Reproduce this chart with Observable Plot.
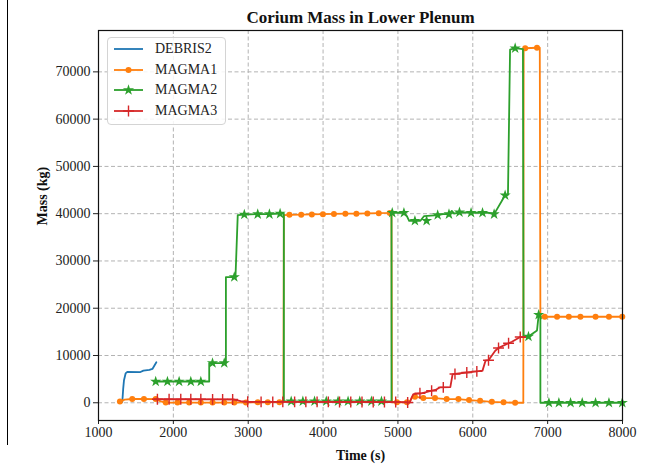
<!DOCTYPE html>
<html><head><meta charset="utf-8">
<script src="https://cdn.jsdelivr.net/npm/d3@7"></script>
<script src="https://cdn.jsdelivr.net/npm/@observablehq/plot@0.6"></script>
<style>
body{margin:0;background:#fff;}
#wrap{position:relative;width:649px;height:464px;overflow:hidden;font-family:"Liberation Serif","Times New Roman",serif;}
#legend{position:absolute;left:107px;top:37px;width:119px;height:88px;border:1px solid #d4d4d4;border-radius:4px;background:rgba(255,255,255,0.85);box-sizing:border-box;}
.row{position:absolute;left:5px;height:16px;display:flex;align-items:center;font-size:14px;color:#222;white-space:nowrap;}
.row svg{margin-right:11px;}
#frag{position:absolute;left:0;top:0;width:7px;height:445px;border-right:1.3px solid #000;}
</style></head>
<body><div id="wrap"><div id="frag"></div><div id="chart"></div><div id="legend"></div></div>
<script>
// ---- data ----
const xTicks = [1000,2000,3000,4000,5000,6000,7000,8000];
const yTicks = [0,10000,20000,30000,40000,50000,60000,70000];
const seriesNames = ["DEBRIS2","MAGMA1","MAGMA2","MAGMA3"];
const seriesColors = ["#1f77b4","#ff7f0e","#2ca02c","#d62728"];
const seriesSymbols = [null,"circle","star","plus"];

const debris2Line = [[1318,200],[1330,3000],[1340,4700],[1362,6200],[1385,6550],[1560,6500],[1600,6800],[1680,6950],[1720,7150],[1773,8560]];

const magma1Line = [[1286,250],[1350,650],[1451,800],[1607,800],[1764,780],[1830,300],[1898,50],[2800,50],[3000,80],[3470,120],[3476,39700],[3551,39750],[3708,39800],[3850,39850],[3998,39900],[4145,39950],[4298,40000],[4445,40000],[4592,40050],[4744,40100],[4891,40150],[4914,40200],[4920,100],[5150,100],[5200,1300],[5227,1300],[5339,1000],[5495,1000],[5651,780],[5808,780],[5950,570],[6098,420],[6255,210],[6411,100],[6566,0],[6675,0],[6680,75000],[6700,75000],[6858,75100],[6895,75100],[6903,18200],[8000,18200]];
const magma1Marks = [[1286,250],[1451,800],[1607,800],[1764,780],[1898,50],[2055,50],[2211,50],[2367,50],[2524,50],[2680,50],[2814,50],[2970,80],[3127,90],[3261,100],[3417,120],[3551,39750],[3708,39800],[3850,39850],[3998,39900],[4145,39950],[4298,40000],[4445,40000],[4592,40050],[4744,40100],[4891,40150],[4987,100],[5121,100],[5227,1300],[5339,1000],[5495,1000],[5651,780],[5808,780],[5950,570],[6098,420],[6255,210],[6411,100],[6566,0],[6700,75000],[6858,75100],[6961,18200],[7126,18200],[7283,18200],[7438,18200],[7640,18200],[7819,18200],[7997,18200]];

const magma2Line = [[1742,4500],[2479,4500],[2479,8400],[2702,8400],[2702,26600],[2830,26600],[2860,39700],[2948,39800],[3127,39900],[3283,39900],[3426,40000],[3476,40000],[3476,300],[4914,300],[4914,40200],[5080,40200],[5120,39500],[5150,38500],[5300,38500],[5350,39500],[5531,39700],[5600,39900],[5682,39900],[5720,40600],[5750,40000],[5822,40300],[5977,40200],[6130,40200],[6200,40200],[6285,39900],[6432,43900],[6470,44000],[6498,74700],[6566,75000],[6670,74800],[6678,13900],[6744,14000],[6858,15300],[6880,18600],[6903,18500],[6903,0],[8000,0]];
const magma2Marks = [[1764,4500],[1921,4500],[2077,4500],[2233,4500],[2367,4500],[2523,8400],[2680,8400],[2814,26600],[2948,39800],[3127,39900],[3283,39900],[3426,40000],[3574,300],[3730,300],[3886,300],[4043,300],[4200,300],[4334,300],[4490,300],[4646,300],[4780,300],[4924,40200],[5080,40200],[5227,38500],[5383,38500],[5531,39700],[5682,39900],[5822,40300],[5977,40200],[6130,40200],[6285,39900],[6432,43900],[6566,75000],[6744,14000],[6880,18600],[7017,0],[7150,0],[7306,0],[7462,0],[7640,0],[7819,0],[7997,0]];

const magma3Line = [[1742,750],[2800,700],[2900,350],[3000,200],[5100,150],[5159,50],[5180,1000],[5206,1850],[5316,2000],[5450,2550],[5500,2700],[5560,3250],[5700,3300],[5730,6000],[5762,6100],[5920,6400],[6054,6650],[6130,6800],[6170,8900],[6210,9000],[6300,11000],[6344,11600],[6478,12600],[6523,12900],[6634,13900],[6700,13900]];
const magma3Marks = [[1787,750],[1943,750],[2099,740],[2233,730],[2367,730],[2524,720],[2658,710],[2792,700],[2993,220],[3172,200],[3328,200],[3462,200],[3620,190],[3770,190],[3920,180],[4070,180],[4220,170],[4370,170],[4520,160],[4670,160],[4820,150],[4970,150],[5130,50],[5294,2000],[5450,2550],[5606,3250],[5762,6100],[5920,6400],[6054,6650],[6210,9000],[6344,11600],[6478,12600],[6634,13900]];

const title = "Corium Mass in Lower Plenum";
const xLabel = "Time (s)";
const yLabel = "Mass (kg)";

// ---- chart ----
const font = '"Liberation Serif","Times New Roman",serif';
const X = d => d[0], Y = d => d[1];
const lines = [debris2Line, magma1Line, magma2Line, magma3Line];
const marks = [null, magma1Marks, magma2Marks, magma3Marks];
const symR = {circle:3, star:3.5, plus:3.6};

const layers = [];
lines.forEach((ln, i) => {
  layers.push(Plot.line(ln, {x:X, y:Y, stroke:seriesColors[i], strokeWidth:1.8}));
  if (marks[i]) {
    const s = seriesSymbols[i];
    if (s === "plus") layers.push(Plot.dot(marks[i], {x:X, y:Y, symbol:s, r:symR[s], stroke:seriesColors[i], fill:"none", strokeWidth:1.4}));
    else layers.push(Plot.dot(marks[i], {x:X, y:Y, symbol:s, r:symR[s], fill:seriesColors[i], stroke:"none"}));
  }
});

const chart = Plot.plot({
  width:649, height:464,
  marginTop:30, marginBottom:44, marginLeft:98, marginRight:27,
  style:{fontFamily:font, fontSize:"14px", background:"white", color:"#222"},
  x:{domain:[1000,8000]},
  y:{domain:[-3750,78750]},
  marks:[
    Plot.gridX(xTicks, {stroke:"#b3b3b3", strokeOpacity:1, strokeWidth:1, strokeDasharray:"4,2.5"}),
    Plot.gridY(yTicks, {stroke:"#b3b3b3", strokeOpacity:1, strokeWidth:1, strokeDasharray:"4,2.5"}),
    Plot.axisX(xTicks, {tickSize:4, tickPadding:3, tickFormat:d=>String(d), label:null, fontSize:14, stroke:"#222"}),
    Plot.axisY(yTicks, {tickSize:5, tickPadding:3, tickFormat:d=>String(d), label:null, fontSize:14, stroke:"#222"}),
    ...layers,
    Plot.frame({stroke:"#111", strokeWidth:1.2}),
    Plot.text([title], {text:d=>d, frameAnchor:"top", lineAnchor:"middle", dy:-13, fontWeight:"bold", fontSize:17, fill:"#111"}),
    Plot.text([xLabel], {text:d=>d, frameAnchor:"bottom", lineAnchor:"middle", dy:35, fontWeight:"bold", fontSize:14, fill:"#111"}),
    Plot.text([yLabel], {text:d=>d, frameAnchor:"left", dx:-56, rotate:-90, fontWeight:"bold", fontSize:14, fill:"#111"})
  ]
});
document.getElementById("chart").appendChild(chart);

// ---- legend ----
const legend = document.getElementById("legend");
seriesNames.forEach((name, i) => {
  const row = document.createElement("div");
  row.className = "row";
  row.style.top = (3 + i * 20.5) + "px";
  const svg = d3.create("svg").attr("width", 31).attr("height", 14);
  svg.append("line").attr("x1",1).attr("x2",30).attr("y1",7).attr("y2",7).attr("stroke",seriesColors[i]).attr("stroke-width",1.8);
  const s = seriesSymbols[i];
  if (s) {
    const sym = {circle:d3.symbolCircle, star:d3.symbolStar, plus:d3.symbolPlus}[s];
    const r = symR[s];
    const p = svg.append("path").attr("transform","translate(15.5,7)").attr("d", d3.symbol(sym, Math.PI*r*r)());
    if (s === "plus") p.attr("fill","none").attr("stroke",seriesColors[i]).attr("stroke-width",1.4);
    else p.attr("fill",seriesColors[i]);
  }
  row.appendChild(svg.node());
  const t = document.createElement("span");
  t.textContent = name;
  row.appendChild(t);
  legend.appendChild(row);
});
</script></body></html>
